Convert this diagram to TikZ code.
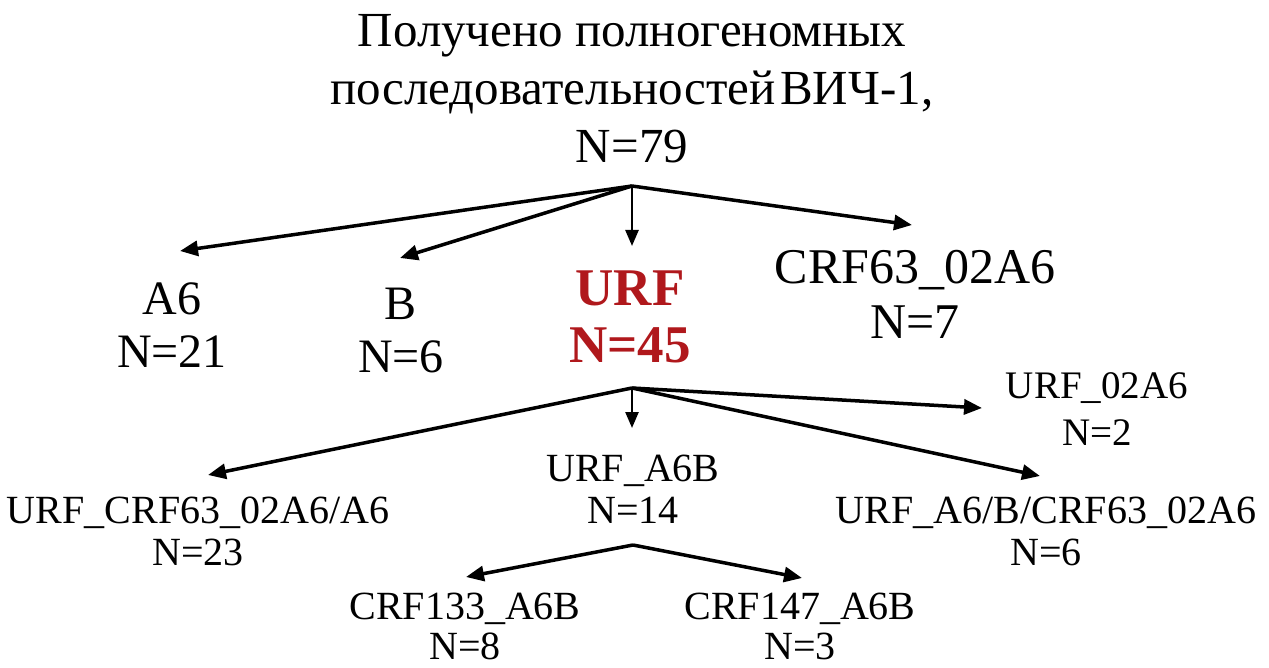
\documentclass[tikz,border=0pt]{standalone}
\usepackage{fontspec}
\setmainfont{Liberation Serif}
\usetikzlibrary{arrows.meta}
\definecolor{urfred}{RGB}{176,24,28}
\tikzset{
  lbl/.style={align=center, inner sep=0pt, anchor=base, text=black},
  big/.style={lbl, font=\fontsize{48}{53}\selectfont},
  mid/.style={lbl, font=\fontsize{50}{55}\selectfont},
  small/.style={lbl, font=\fontsize{40}{42}\selectfont},
  tiny/.style={lbl, font=\fontsize{39}{47}\selectfont},
  arr/.style={line width=3.5pt, -{Triangle[length=18pt,width=15pt]}},
  varr/.style={line width=2.5pt, -{Triangle[length=16pt,width=13pt]}}
}
\begin{document}
\begin{tikzpicture}[x=1pt, y=-1pt]
  \useasboundingbox (0,0) rectangle (1269,668);

  % root: all sequences (base anchor sits on the last line)
  \node[lbl, font=\fontsize{49}{58}\selectfont] (all) at (632,163)
    {Получено полногеномных\\последовательностей\hspace{0.1em}ВИЧ-1,\\N=79};

  % first level
  \node[big] (a6)  at (172,367) {A6\\N=21};
  \node[big] (b)   at (401,372) {B\\N=6};
  \node[lbl, text=urfred, font=\bfseries\fontsize{53}{57}\selectfont] (urf) at (630,362) {URF\\N=45};
  \node[mid] (crf) at (915,338) {CRF63\_02A6\\N=7};

  % second level
  \node[small] (u1) at (198,565) {URF\_CRF63\_02A6/A6\\N=23};
  \node[small] (u2) at (633,523) {URF\_A6B\\N=14};
  \node[tiny]  (u3) at (1097,445) {URF\_02A6\\N=2};
  \node[small] (u4) at (1046,565) {URF\_A6/B/CRF63\_02A6\\N=6};

  % third level
  \node[small, font=\fontsize{40}{40}\selectfont] (c133) at (465,659) {CRF133\_A6B\\N=8};
  \node[small, font=\fontsize{40}{40}\selectfont] (c147) at (800,659) {CRF147\_A6B\\N=3};

  % branching points and arrow tips
  \coordinate (j1) at (632,186);
  \coordinate (j2) at (632,388);
  \coordinate (j3) at (633,545);
  \coordinate (ta6)  at (180,251);
  \coordinate (tb)   at (400,258);
  \coordinate (turf) at (632,246);
  \coordinate (tcrf) at (912,225);
  \coordinate (tu1)  at (208,475);
  \coordinate (tu2)  at (632,428);
  \coordinate (tu3)  at (982,408);
  \coordinate (tu4)  at (1040,476);
  \coordinate (tc133) at (466,577);
  \coordinate (tc147) at (802,578);

  \draw[arr]  (j1) -- (ta6);
  \draw[arr]  (j1) -- (tb);
  \draw[varr] (j1) -- (turf);
  \draw[arr]  (j1) -- (tcrf);

  \draw[arr]  (j2) -- (tu1);
  \draw[varr] (j2) -- (tu2);
  \draw[arr]  (j2) -- (tu3);
  \draw[arr]  (j2) -- (tu4);

  \draw[arr]  (j3) -- (tc133);
  \draw[arr]  (j3) -- (tc147);
\end{tikzpicture}
\end{document}
